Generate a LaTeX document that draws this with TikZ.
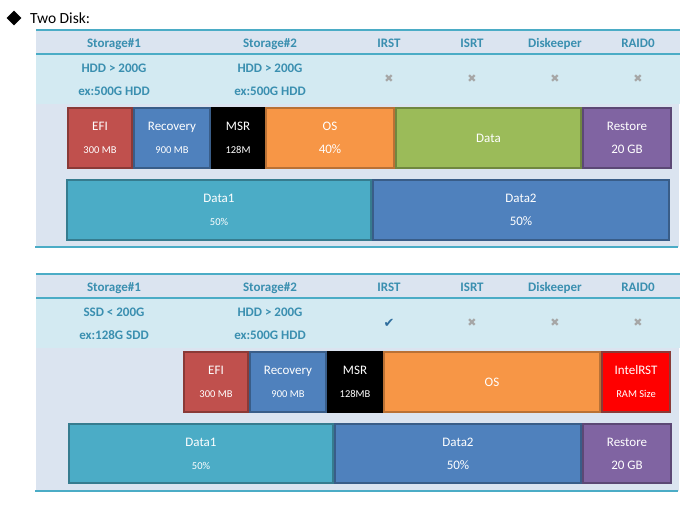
\documentclass[tikz,border=0pt]{standalone}
\usepackage{fontspec}
\setmainfont{Carlito}
\newfontfamily\symfont{DejaVu Sans}
\usetikzlibrary{shapes.geometric}
\definecolor{tealline}{HTML}{4BACC6}
\definecolor{headbg}{HTML}{DBE4F0}
\definecolor{rowbg}{HTML}{D3EAF2}
\definecolor{headtext}{HTML}{3A8FB0}
\definecolor{markgray}{HTML}{A6A6A6}
\definecolor{markblue}{HTML}{2F6E9E}
\definecolor{efired}{HTML}{C0504D}
\definecolor{recblue}{HTML}{4F81BD}
\definecolor{osorange}{HTML}{F79646}
\definecolor{datagreen}{HTML}{9BBB59}
\definecolor{restpurple}{HTML}{8064A2}
\definecolor{datateal}{HTML}{4BACC6}
\definecolor{rstred}{HTML}{FF0000}
\newcommand{\subsz}{\fontsize{10.5}{12}\selectfont}
\tikzset{
  part/.style={draw, line width=2pt, text=white, align=center, inner sep=0pt,
    font=\fontsize{13}{15}\selectfont},
  efipart/.style={part, fill=efired, draw=efired!72!black},
  recpart/.style={part, fill=recblue, draw=recblue!72!black},
  msrpart/.style={part, fill=black, draw=black},
  ospart/.style={part, fill=osorange, draw=osorange!75!black},
  datapart/.style={part, fill=datagreen, draw=datagreen!72!black},
  restpart/.style={part, fill=restpurple, draw=restpurple!72!black},
  tealpart/.style={part, fill=datateal, draw=datateal!72!black},
  rstpart/.style={part, fill=rstred, draw=efired!72!black},
  head/.style={text=headtext, inner sep=0pt, text height=8.5pt, text depth=0pt,
    font=\bfseries\fontsize{13}{15}\selectfont},
  spec/.style={text=headtext, inner sep=0pt, align=center,
    font=\bfseries\fontsize{13}{15}\selectfont},
  nomark/.style={text=markgray, inner sep=0pt, font=\symfont\fontsize{11}{12}\selectfont},
  yesmark/.style={text=markblue, inner sep=0pt, font=\symfont\fontsize{13}{14}\selectfont},
  rule/.style={draw=tealline, line width=2pt}
}
\begin{document}
\begin{tikzpicture}[x=1pt,y=-1pt]
  \useasboundingbox (0,0) rectangle (700,510);
  \node[diamond, fill=black, inner sep=0pt, minimum size=15pt] (bullet) at (14,18) {};
  \node[anchor=west, inner sep=0pt, font=\fontsize{15.5}{18}\selectfont] (title) at (30,18) {Two Disk:};
  % table frames and headers
  \foreach \n/\dy in {1/0,2/244} {
    \fill[headbg] (36,30+\dy) rectangle (680,54+\dy);
    \fill[rowbg] (36,54+\dy) rectangle (680,104+\dy);
    \fill[headbg] (36,104+\dy) rectangle (679,247+\dy);
    \draw[rule] (36,30+\dy) -- (680,30+\dy);
    \draw[rule] (36,54+\dy) -- (680,54+\dy);
    \draw[rule] (35,247+\dy) -- (678,247+\dy);
    \node[head] (H\n_1) at (114,43+\dy) {Storage\#1};
    \node[head] (H\n_2) at (270,43+\dy) {Storage\#2};
    \node[head] (H\n_3) at (389,43+\dy) {IRST};
    \node[head] (H\n_4) at (472,43+\dy) {ISRT};
    \node[head] (H\n_5) at (555,43+\dy) {Diskeeper};
    \node[head] (H\n_6) at (638,43+\dy) {RAID0};
    \node[nomark] (M\n_4) at (472,79+\dy) {✖};
    \node[nomark] (M\n_5) at (555,79+\dy) {✖};
    \node[nomark] (M\n_6) at (638,79+\dy) {✖};
  }
  % table 1
  \node[spec] (S1_1) at (114,79.5) {HDD > 200G\\[8pt]ex:500G HDD};
  \node[spec] (S1_2) at (270,79.5) {HDD > 200G\\[8pt]ex:500G HDD};
  \node[nomark] (M1_3) at (389,79) {✖};
  \node[efipart, minimum width=64pt, minimum height=60pt] (A1_1) at (100,138) {EFI\\[8pt]{\subsz 300 MB}};
  \node[recpart, minimum width=76pt, minimum height=60pt] (A1_2) at (172,138) {Recovery\\[8pt]{\subsz 900 MB}};
  \node[msrpart, minimum width=52pt, minimum height=60pt] (A1_3) at (238,138) {MSR\\[8pt]{\subsz 128M}};
  \node[ospart, minimum width=128pt, minimum height=60pt] (A1_4) at (330,138) {OS\\[8pt]40\%};
  \node[datapart, minimum width=185pt, minimum height=60pt] (A1_5) at (488.5,138) {Data};
  \node[restpart, minimum width=88pt, minimum height=60pt] (A1_6) at (627,138) {Restore\\[8pt]20 GB};
  \node[tealpart, minimum width=304pt, minimum height=60pt] (B1_1) at (219,210) {Data1\\[8pt]{\subsz 50\%}};
  \node[recpart, minimum width=296pt, minimum height=60pt] (B1_2) at (521,210) {Data2\\[8pt]50\%};
  % table 2
  \node[spec] (S2_1) at (114,323.5) {SSD < 200G\\[8pt]ex:128G SDD};
  \node[spec] (S2_2) at (270,323.5) {HDD > 200G\\[8pt]ex:500G HDD};
  \node[yesmark] (M2_3) at (389,323) {✔};
  \node[efipart, minimum width=64pt, minimum height=60pt] (A2_1) at (216,382) {EFI\\[8pt]{\subsz 300 MB}};
  \node[recpart, minimum width=76pt, minimum height=60pt] (A2_2) at (288,382) {Recovery\\[8pt]{\subsz 900 MB}};
  \node[msrpart, minimum width=54pt, minimum height=60pt] (A2_3) at (355,382) {MSR\\[8pt]{\subsz 128MB}};
  \node[ospart, minimum width=216pt, minimum height=60pt] (A2_4) at (492,382) {OS};
  \node[rstpart, minimum width=68pt, minimum height=60pt] (A2_5) at (636,382) {IntelRST\\[8pt]{\subsz RAM Size}};
  \node[tealpart, minimum width=264pt, minimum height=59pt] (B2_1) at (201,453.5) {Data1\\[8pt]{\subsz 50\%}};
  \node[recpart, minimum width=246pt, minimum height=59pt] (B2_2) at (458,453.5) {Data2\\[8pt]50\%};
  \node[restpart, minimum width=88pt, minimum height=59pt] (B2_3) at (627,453.5) {Restore\\[8pt]20 GB};
\end{tikzpicture}
\end{document}
